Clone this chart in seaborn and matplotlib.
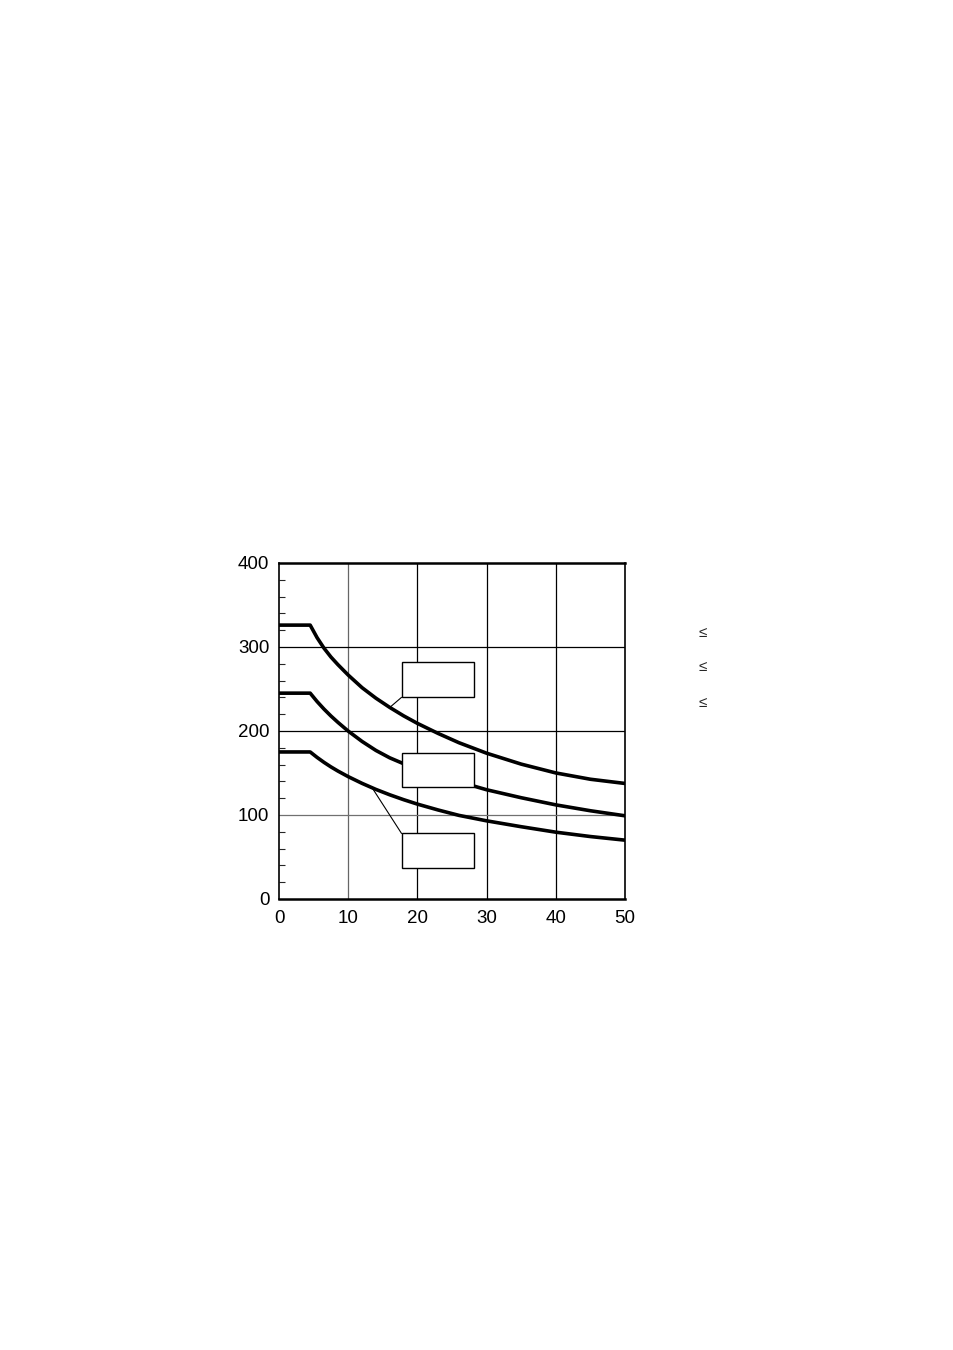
import numpy as np
import pandas as pd
import matplotlib
matplotlib.use('Agg')
import matplotlib.pyplot as plt
import seaborn as sns
from matplotlib.patches import Rectangle

# curve values
x_vals = [0, 4.5, 5.5, 6.5, 7.5, 8.5, 10, 12, 14, 16, 18, 20, 23, 26, 30, 35, 40, 45, 50]
top_curve = [326, 326, 311, 298.5, 288, 279, 266.5, 251.5, 239, 228, 218, 209, 197, 186, 173.5, 160.5, 150, 142.5, 137.5]
mid_curve = [245, 245, 235, 226, 217.8, 210.3, 199.8, 187.5, 176.8, 168, 161, 155, 147, 139.5, 130, 120.5, 112, 105, 99]
low_curve = [175, 175, 168.5, 162.6, 157.2, 152.3, 145.6, 137.6, 130.4, 124, 118.2, 112.9, 105.9, 99.5, 93, 86, 79.5, 74.3, 70]
x_ticks = [0, 10, 20, 30, 40, 50]
y_ticks = [0, 100, 200, 300, 400]

df = pd.DataFrame({
    'x': x_vals * 3,
    'y': top_curve + mid_curve + low_curve,
    'curve': ['top'] * len(x_vals) + ['mid'] * len(x_vals) + ['low'] * len(x_vals),
})

sns.set_style('white')
plt.rcParams['font.family'] = ['Liberation Sans', 'DejaVu Sans']

fig = plt.figure(figsize=(9.54, 13.5), dpi=100)
ax = fig.add_axes([0.2925, 0.3341, 0.3627, 0.2489])

# grid lines
for gx in [10, 20, 30, 40]:
    ax.axvline(gx, color='#666666' if gx == 10 else 'black', lw=0.9, zorder=1)
for gy in [100, 200, 300]:
    ax.axhline(gy, color='#707070' if gy == 100 else 'black', lw=0.9, zorder=1)

sns.lineplot(data=df, x='x', y='y', hue='curve', palette=['black'] * 3,
             lw=2.6, legend=False, ax=ax, zorder=3)

# label boxes (empty)
boxes = [(17.7, 240, 10.4, 42), (17.7, 133, 10.4, 41), (17.7, 37, 10.4, 41)]
for bx, by, bw, bh in boxes:
    ax.add_patch(Rectangle((bx, by), bw, bh, facecolor='white', edgecolor='black',
                           lw=1.0, zorder=4))
ax.plot([17.7, 16.0], [240, 228], color='black', lw=0.8, zorder=4)
ax.plot([17.7, 13.4], [78, 133], color='black', lw=0.8, zorder=4)

ax.set_xlim(0, 50)
ax.set_ylim(0, 400)
ax.set_xticks(x_ticks)
ax.set_yticks(y_ticks)
ax.set_yticks(np.arange(0, 401, 20), minor=True)
ax.tick_params(axis='y', which='minor', direction='in', length=4, width=0.8, left=True)
ax.tick_params(axis='both', which='major', length=0, labelsize=13.5, labelcolor='black')
ax.tick_params(axis='y', which='major', pad=7)
ax.tick_params(axis='x', which='major', pad=8)
ax.set_xlabel('')
ax.set_ylabel('')
for s in ax.spines.values():
    s.set_color('black')
    s.set_linewidth(1.2)
ax.spines['top'].set_linewidth(1.8)
ax.spines['bottom'].set_linewidth(1.8)

for yy in [633, 667, 703]:
    fig.text(703 / 954, 1 - yy / 1350, '≤', ha='center', va='center', fontsize=11)

fig.savefig('out.png', dpi=100)
